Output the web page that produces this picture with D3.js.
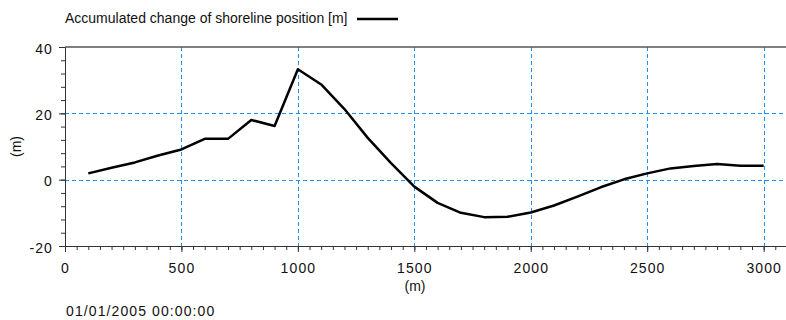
<!DOCTYPE html>
<html>
<head>
<meta charset="utf-8">
<script src="https://cdn.jsdelivr.net/npm/d3@7"></script>
<style>
  html, body { margin: 0; padding: 0; background: #fff; }
  svg { display: block; font-family: "Liberation Sans", Arial, sans-serif; }
  .num { letter-spacing: 1.1px; }
</style>
</head>
<body>
<svg id="chart" width="786" height="320"></svg>
<script>
// Chainage along the coast (m)
const chainage = [100, 200, 300, 400, 500, 600, 700, 800, 900, 1000,
                  1100, 1200, 1300, 1400, 1500, 1600, 1700, 1800, 1900, 2000,
                  2100, 2200, 2300, 2400, 2500, 2600, 2700, 2800, 2900, 3000];
// Accumulated change of shoreline position (m)
const shorelineChange = [1.9, 3.6, 5.2, 7.3, 9.1, 12.3, 12.3, 18.0, 16.2, 33.3,
                         28.7, 21.3, 12.6, 5.0, -2.1, -7.0, -10.0, -11.3, -11.2, -9.9,
                         -7.8, -5.1, -2.3, 0.1, 1.9, 3.4, 4.1, 4.7, 4.2, 4.2];
const xMajorTicks = [0, 500, 1000, 1500, 2000, 2500, 3000];
const yMajorTicks = [-20, 0, 20, 40];
const yGridValues = [0, 20];
const seriesName = "Accumulated change of shoreline position [m]";
const axisUnit = "(m)";
const timeStamp = "01/01/2005 00:00:00";

const svg = d3.select("#chart");
const plotLeft = 65, plotRight = 786, plotTop = 47, plotBottom = 246;

const x = d3.scaleLinear().domain([0, 3096]).range([plotLeft, plotRight]);
const y = d3.scaleLinear().domain([-20, 40]).range([plotBottom, plotTop]);
const px = v => Math.round(v) + 0.5;   // snap to pixel centre
const plainFormat = d => String(d);    // ASCII hyphen for negatives

const gridColor = "#1e90ff";
const axisColor = "#333";
const textColor = "#111";

// Grid
const grid = svg.append("g");
grid.selectAll("line.v").data(xMajorTicks.filter(d => d > 0)).join("line")
  .attr("class", "v")
  .attr("x1", d => px(x(d))).attr("x2", d => px(x(d)))
  .attr("y1", plotTop).attr("y2", plotBottom)
  .attr("stroke", gridColor).attr("stroke-width", 1)
  .attr("stroke-dasharray", "4,3");
grid.selectAll("line.h").data(yGridValues).join("line")
  .attr("class", "h")
  .attr("x1", plotLeft).attr("x2", plotRight)
  .attr("y1", d => px(y(d))).attr("y2", d => px(y(d)))
  .attr("stroke", gridColor).attr("stroke-width", 1)
  .attr("stroke-dasharray", "4,3");

// Top frame line
svg.append("line")
  .attr("x1", plotLeft).attr("x2", plotRight).attr("y1", plotTop).attr("y2", plotTop)
  .attr("stroke", "#555").attr("stroke-width", 1.5);

// Minor ticks
const xMinor = d3.range(0, 3051, 50);
const yMinor = d3.range(-20, 41, 4);
svg.append("g").attr("transform", `translate(0,${plotBottom})`)
  .call(d3.axisBottom(x).tickValues(xMinor).tickSize(4).tickFormat(""))
  .call(g => g.select(".domain").remove())
  .call(g => g.selectAll("line").attr("stroke", axisColor));
svg.append("g").attr("transform", `translate(${plotLeft},0)`)
  .call(d3.axisLeft(y).tickValues(yMinor).tickSize(4).tickFormat(""))
  .call(g => g.select(".domain").remove())
  .call(g => g.selectAll("line").attr("stroke", axisColor));

// Major axes
const xAxis = svg.append("g").attr("transform", `translate(0,${plotBottom})`)
  .call(d3.axisBottom(x).tickValues(xMajorTicks).tickSize(6).tickPadding(11).tickSizeOuter(0).tickFormat(plainFormat));
xAxis.select(".domain").attr("stroke", axisColor).attr("d", `M${plotLeft},0.5H${plotRight}`);
xAxis.selectAll("line").attr("stroke", axisColor);
xAxis.selectAll("text").attr("class", "num").attr("font-size", 14).attr("fill", textColor)
  .attr("font-family", "Liberation Sans, Arial, sans-serif");

const yAxis = svg.append("g").attr("transform", `translate(${plotLeft},0)`)
  .call(d3.axisLeft(y).tickValues(yMajorTicks).tickSize(6).tickPadding(6).tickSizeOuter(0).tickFormat(plainFormat));
yAxis.select(".domain").attr("stroke", axisColor);
yAxis.selectAll("line").attr("stroke", axisColor);
yAxis.selectAll("text").attr("class", "num").attr("font-size", 14).attr("fill", textColor)
  .attr("dy", "0.45em").attr("font-family", "Liberation Sans, Arial, sans-serif");

// Series line
const line = d3.line().x((d, i) => x(chainage[i])).y(d => y(d));
svg.append("path")
  .datum(shorelineChange)
  .attr("d", line)
  .attr("fill", "none").attr("stroke", "#000").attr("stroke-width", 2.5)
  .attr("stroke-linejoin", "round");

// Axis titles
svg.append("text")
  .attr("x", 415).attr("y", 291).attr("text-anchor", "middle")
  .attr("font-size", 14).attr("fill", textColor).text(axisUnit);
svg.append("text")
  .attr("transform", `translate(21,${(plotTop + plotBottom) / 2}) rotate(-90)`)
  .attr("text-anchor", "middle")
  .attr("font-size", 14).attr("fill", textColor).text(axisUnit);

// Legend
svg.append("text")
  .attr("x", 65).attr("y", 23)
  .attr("font-size", 14).attr("fill", textColor).text(seriesName);
svg.append("line")
  .attr("x1", 357).attr("x2", 398).attr("y1", 19).attr("y2", 19)
  .attr("stroke", "#000").attr("stroke-width", 2.5);

// Time stamp
svg.append("text")
  .attr("class", "num")
  .attr("x", 66).attr("y", 316)
  .attr("font-size", 14).attr("fill", textColor).text(timeStamp);
</script>
</body>
</html>
